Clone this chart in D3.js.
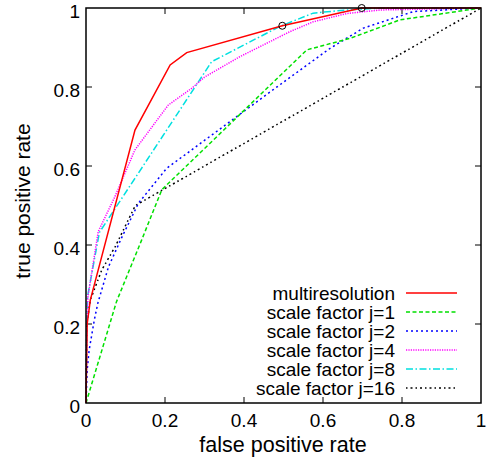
<!DOCTYPE html>
<html>
<head>
<meta charset="utf-8">
<script src="https://cdn.jsdelivr.net/npm/d3@7"></script>
<style>
  html, body { margin: 0; padding: 0; background: #fff; }
  svg { display: block; font-family: "Liberation Sans", Arial, sans-serif; }
</style>
</head>
<body>
<svg id="chart" width="496" height="464"></svg>
<script>
// ---- data ----
const seriesNames = ["multiresolution", "scale factor j=1", "scale factor j=2", "scale factor j=4", "scale factor j=8", "scale factor j=16"];
const multiresFPR = [0, 0.003, 0.011, 0.124, 0.213, 0.255, 0.497, 0.698, 1];
const multiresTPR = [0, 0.2, 0.261, 0.691, 0.856, 0.887, 0.955, 1.0, 1];
const j1FPR = [0, 0.077, 0.141, 0.192, 0.559, 0.668, 0.795, 1];
const j1TPR = [0, 0.256, 0.413, 0.54, 0.894, 0.923, 0.97, 1];
const j2FPR = [0, 0.003, 0.008, 0.021, 0.03, 0.057, 0.091, 0.133, 0.204, 0.49, 0.618, 0.702, 0.829, 1];
const j2TPR = [0, 0.084, 0.134, 0.21, 0.253, 0.345, 0.42, 0.506, 0.594, 0.805, 0.898, 0.949, 0.991, 1];
const j4FPR = [0, 0.002, 0.005, 0.031, 0.073, 0.124, 0.208, 0.268, 0.3, 0.39, 0.516, 0.575, 0.66, 0.744, 1];
const j4TPR = [0, 0.2, 0.27, 0.434, 0.522, 0.641, 0.754, 0.797, 0.825, 0.877, 0.94, 0.965, 0.986, 0.995, 1];
const j8FPR = [0, 0.002, 0.004, 0.034, 0.318, 0.49, 0.575, 0.66, 0.75, 1];
const j8TPR = [0, 0.2, 0.27, 0.432, 0.864, 0.953, 0.987, 0.995, 1.0, 1];
const j16FPR = [0, 0.002, 0.011, 0.04, 0.074, 0.125, 1];
const j16TPR = [0, 0.2, 0.261, 0.337, 0.396, 0.5, 1];
const markerFPR = [0.497, 0.698];
const markerTPR = [0.955, 1.0];
const tickValues = [0, 0.2, 0.4, 0.6, 0.8, 1];
const tickLabels = ["0", "0.2", "0.4", "0.6", "0.8", "1"];

const seriesFPR = [multiresFPR, j1FPR, j2FPR, j4FPR, j8FPR, j16FPR];
const seriesTPR = [multiresTPR, j1TPR, j2TPR, j4TPR, j8TPR, j16TPR];
const colors = ["#ff0000", "#00e000", "#0000ff", "#ff00ff", "#00e0e0", "#000000"];
const dashes = [null, "4,2.5", "2,3", "1.2,1.2", "7,2.5,1.5,2.5", "1.5,3,2,3"];

// ---- layout ----
const svg = d3.select("#chart");
const L = 86, T = 8, W = 395, H = 395;
const x = d3.scaleLinear().domain([0, 1]).range([L, L + W]);
const y = d3.scaleLinear().domain([0, 1]).range([T + H, T]);
const fs = 19;

// ticks (inward, mirrored)
const tk = 6;
const g = svg.append("g").attr("stroke", "#000").attr("stroke-width", 1);
tickValues.forEach((v, i) => {
  if (i > 0 && i < tickValues.length - 1) {
    g.append("line").attr("x1", x(v)).attr("x2", x(v)).attr("y1", T + H).attr("y2", T + H - tk);
    g.append("line").attr("x1", x(v)).attr("x2", x(v)).attr("y1", T).attr("y2", T + tk);
    g.append("line").attr("x1", L).attr("x2", L + tk).attr("y1", y(v)).attr("y2", y(v));
    g.append("line").attr("x1", L + W).attr("x2", L + W - tk).attr("y1", y(v)).attr("y2", y(v));
  }
});

// tick labels
svg.append("g").selectAll("text").data(tickValues).join("text")
  .attr("x", d => x(d)).attr("y", 427)
  .attr("text-anchor", "middle").attr("font-size", fs)
  .text((d, i) => tickLabels[i]);
svg.append("g").selectAll("text").data(tickValues).join("text")
  .attr("x", 80).attr("y", d => y(d) + 3).attr("dy", "0.36em")
  .attr("text-anchor", "end").attr("font-size", fs)
  .text((d, i) => tickLabels[i]);

// axis titles
svg.append("text").attr("x", 283).attr("y", 452)
  .attr("text-anchor", "middle").attr("font-size", 21.5)
  .text("false positive rate");
svg.append("text").attr("transform", `translate(30,201) rotate(-90)`)
  .attr("text-anchor", "middle").attr("font-size", 21)
  .text("true positive rate");

// series
const line = d3.line().x(d => x(d[0])).y(d => y(d[1]));
const sg = svg.append("g");
for (let s = seriesNames.length - 1; s >= 0; s--) {
  const pts = seriesFPR[s].map((f, i) => [f, seriesTPR[s][i]]);
  sg.append("path").datum(pts)
    .attr("d", line).attr("fill", "none")
    .attr("stroke", colors[s]).attr("stroke-width", 1.5)
    .attr("stroke-dasharray", dashes[s]);
}
// markers
svg.append("g").selectAll("circle").data(markerFPR).join("circle")
  .attr("cx", d => x(d)).attr("cy", (d, i) => y(markerTPR[i]))
  .attr("r", 3.5).attr("fill", "none").attr("stroke", "#000").attr("stroke-width", 1);

// border
svg.append("rect").attr("x", L).attr("y", T).attr("width", W).attr("height", H)
  .attr("fill", "none").attr("stroke", "#000").attr("stroke-width", 1.5);

// legend
const lg = svg.append("g");
seriesNames.forEach((n, i) => {
  const cy = 293 + i * 19;
  lg.append("text").attr("x", 395).attr("y", cy).attr("dy", "0.36em")
    .attr("text-anchor", "end").attr("font-size", fs).text(n);
  lg.append("line").attr("x1", 406).attr("x2", 457).attr("y1", cy).attr("y2", cy)
    .attr("stroke", colors[i]).attr("stroke-width", 1.5)
    .attr("stroke-dasharray", dashes[i]);
});
</script>
</body>
</html>
